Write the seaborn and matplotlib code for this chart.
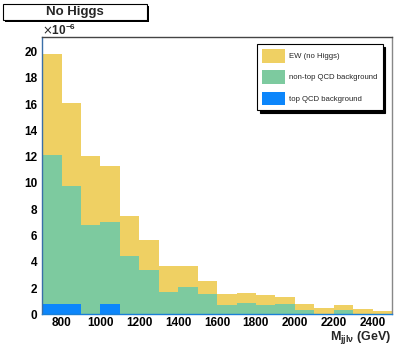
import matplotlib

matplotlib.use("Agg")
import matplotlib.pyplot as plt
import numpy as np
import pandas as pd
import seaborn as sns
from matplotlib.patches import Patch, Rectangle
from matplotlib.ticker import MultipleLocator

# bin edges of M_jjlv (GeV), 100 GeV bins
edges = list(range(700, 2600, 100))

# per-bin contributions, in units of 1e-6
ew_no_higgs = [7.70, 6.30, 5.25, 4.22, 3.00, 2.23, 2.00, 1.57, 1.00, 0.87,
               0.76, 0.72, 0.54, 0.45, 0.48, 0.35, 0.43, 0.27]
non_top_qcd = [11.32, 9.02, 6.80, 6.25, 4.45, 3.40, 1.70, 2.08, 1.55, 0.68,
               0.86, 0.73, 0.81, 0.33, 0.00, 0.33, 0.00, 0.00]
top_qcd = [0.78, 0.78, 0.00, 0.78, 0.00, 0.00, 0.00, 0.00, 0.00, 0.00,
           0.00, 0.00, 0.00, 0.00, 0.00, 0.00, 0.00, 0.00]

labels = ["EW (no Higgs)", "non-top QCD background", "top QCD background"]
colors = ["#efd063", "#7dca9f", "#0c86fb"]

centers = [(a + b) / 2 for a, b in zip(edges[:-1], edges[1:])]
frames = []
for name, vals in zip(labels, [ew_no_higgs, non_top_qcd, top_qcd]):
    frames.append(pd.DataFrame({"mjjlv": centers, "weight": vals, "process": name}))
df = pd.concat(frames, ignore_index=True)

sns.set_style("white")
plt.rcParams["font.family"] = ["Liberation Sans", "DejaVu Sans"]

fig = plt.figure(figsize=(4.07, 3.49), dpi=100)
ax = fig.add_axes([0.1037, 0.0994, 0.8593, 0.7946])

sns.histplot(
    data=df,
    x="mjjlv",
    weights="weight",
    hue="process",
    hue_order=labels,
    palette=dict(zip(labels, colors)),
    multiple="stack",
    bins=edges,
    element="step",
    alpha=1,
    linewidth=0,
    legend=False,
    ax=ax,
)

ax.set_xlim(700, 2500)
ax.set_ylim(0, 21.1)
ax.set_xlabel("")
ax.set_ylabel("")

ax.xaxis.set_major_locator(MultipleLocator(200))
ax.xaxis.set_minor_locator(MultipleLocator(100))
ax.yaxis.set_major_locator(MultipleLocator(2))
ax.yaxis.set_minor_locator(MultipleLocator(0.5))
ax.tick_params(axis="both", which="both", direction="in", colors="#222222",
               labelcolor="black", top=False, right=False)
ax.tick_params(axis="both", which="major", length=6, width=0.8, labelsize=8.5)
ax.tick_params(axis="both", which="minor", length=3, width=0.6)
ax.tick_params(axis="x", pad=2)
for lab in ax.get_xticklabels() + ax.get_yticklabels():
    lab.set_fontweight("bold")

ax.spines["left"].set_color("#3a6fa8")
ax.spines["bottom"].set_color("#1a7fd6")
ax.spines["top"].set_color("#444444")
ax.spines["right"].set_color("#888888")
for s in ax.spines.values():
    s.set_linewidth(1.0)

handles = [Patch(facecolor=c, edgecolor="none") for c in colors]
leg = ax.legend(
    handles, labels,
    loc="upper left",
    bbox_to_anchor=(0.614, 0.975),
    borderaxespad=0,
    fontsize=5.6,
    frameon=True,
    fancybox=False,
    shadow={"color": "black", "alpha": 1},
    edgecolor="black",
    framealpha=1,
    handlelength=3.0,
    handleheight=2.3,
    labelspacing=1.0,
    borderpad=0.65,
    handletextpad=0.5,
)
leg.get_frame().set_linewidth(0.8)

# x10^-6 multiplier above the y axis
fig.text(0.104, 0.9, r"$\times$10$^{\mathregular{-6}}$", fontsize=8.5,
         fontweight="bold", ha="left", va="baseline")

# x axis title
fig.text(0.962, 0.026, r"M$_{\mathregular{jjl\nu}}$ (GeV)", fontsize=9,
         fontweight="bold", ha="right", va="baseline")

# ROOT-style title box with shadow
bx, by, bw, bh = 0.0074, 0.943, 0.354, 0.0458
fig.patches.append(Rectangle((bx + 0.005, by - 0.006), bw, bh, transform=fig.transFigure,
                             facecolor="black", edgecolor="none", zorder=1))
fig.patches.append(Rectangle((bx, by), bw, bh, transform=fig.transFigure,
                             facecolor="white", edgecolor="black", linewidth=0.8, zorder=2))
fig.text(bx + bw / 2, by + bh / 2, "No Higgs", fontsize=9.5, fontweight="bold",
         ha="center", va="center", zorder=3)

fig.savefig("out.png", dpi=100)
plt.close(fig)
